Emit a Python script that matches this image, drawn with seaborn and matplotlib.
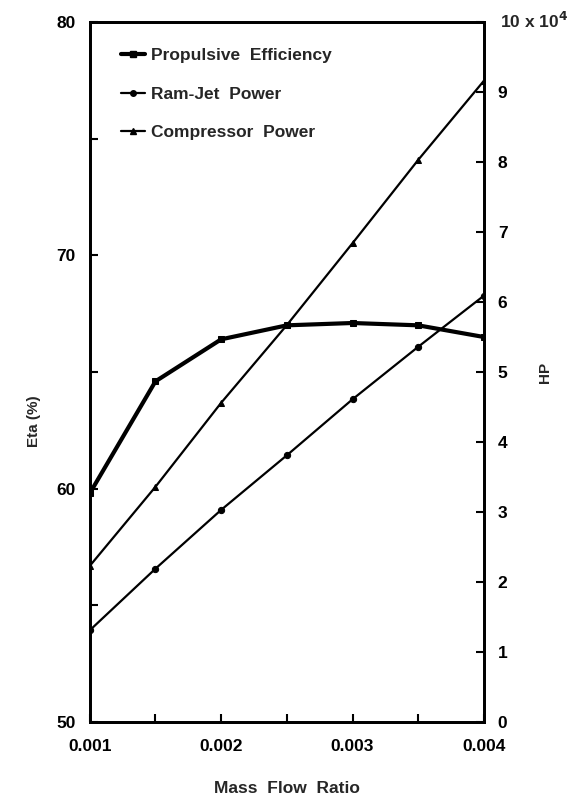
import matplotlib
matplotlib.use("Agg")
import matplotlib.pyplot as plt
import seaborn as sns
import pandas as pd
from matplotlib.lines import Line2D

mass_flow_ratio = [0.001, 0.0015, 0.002, 0.0025, 0.003, 0.0035, 0.004]
propulsive_eff = [59.8, 64.6, 66.4, 67.0, 67.1, 67.0, 66.5]
ramjet_power = [1.31, 2.19, 3.03, 3.81, 4.61, 5.36, 6.09]       # x 10^4 HP
compressor_power = [2.23, 3.36, 4.56, 5.67, 6.84, 8.03, 9.16]   # x 10^4 HP

sns.set_theme(style="white")
plt.rcParams['font.family'] = ['Liberation Sans Narrow', 'Liberation Sans', 'DejaVu Sans']
plt.rcParams['font.weight'] = 'bold'

df = pd.DataFrame({"x": mass_flow_ratio, "eta": propulsive_eff,
                   "ram": ramjet_power, "comp": compressor_power})

fig = plt.figure(figsize=(5.83, 8.0), dpi=100)
ax = fig.add_axes([0.154, 0.0975, 0.676, 0.875])
ax2 = ax.twinx()

sns.lineplot(data=df, x="x", y="eta", ax=ax, color="black", lw=3.0,
             marker="s", markersize=5, markeredgecolor="black")
sns.lineplot(data=df, x="x", y="ram", ax=ax2, color="black", lw=1.6,
             marker="o", markersize=4.5, markeredgecolor="black")
sns.lineplot(data=df, x="x", y="comp", ax=ax2, color="black", lw=1.6,
             marker="^", markersize=5, markeredgecolor="black")

ax.set_xlim(0.001, 0.004)
ax.set_ylim(50, 80)
ax2.set_ylim(0, 10)

ax.set_xticks([0.001, 0.0015, 0.002, 0.0025, 0.003, 0.0035, 0.004])
ax.set_xticklabels(["0.001", "", "0.002", "", "0.003", "", "0.004"])
ax.set_yticks([50, 55, 60, 65, 70, 75, 80])
ax.set_yticklabels(["50", "", "60", "", "70", "", "80"])
ax2.set_yticks(range(0, 11))
ax2.set_yticklabels([str(i) for i in range(0, 10)] + [""])

for a in (ax, ax2):
    for s in a.spines.values():
        s.set_color("black")
        s.set_linewidth(2.0)
    a.tick_params(direction="in", length=6, width=1.5, colors="black",
                  labelsize=12.5, pad=10)
    for lbl in a.get_xticklabels() + a.get_yticklabels():
        lbl.set_fontweight("bold")
ax.tick_params(axis="y", left=True, right=False)
ax2.tick_params(axis="y", right=True, left=False)
ax.tick_params(axis="x", bottom=True, top=False, pad=12)

ax.set_xlabel("Mass  Flow  Ratio", fontsize=12.5, fontweight="bold", labelpad=20)
ax.set_ylabel("Eta (%)", fontsize=11, fontweight="bold")
ax.yaxis.set_label_coords(-0.125, 0.43)
ax2.set_ylabel("HP", fontsize=11, fontweight="bold", labelpad=22, rotation=90)

fig.text(0.858, 0.974, r"10 x 10$^{\mathbf{4}}$", fontsize=12.5, fontweight="bold",
         ha="left", va="center")

handles = [
    Line2D([], [], color="black", lw=3.0, marker="s", markersize=4),
    Line2D([], [], color="black", lw=1.6, marker="o", markersize=4),
    Line2D([], [], color="black", lw=1.6, marker="^", markersize=4),
]
labels = ["Propulsive  Efficiency", "Ram-Jet  Power", "Compressor  Power"]
leg = ax2.legend(handles, labels, loc="upper left", bbox_to_anchor=(0.04, 0.985),
                 frameon=False, handlelength=1.4, handletextpad=0.3,
                 labelspacing=1.35, prop={"size": 12.5, "weight": "bold"})

fig.savefig("out.png", dpi=100)
